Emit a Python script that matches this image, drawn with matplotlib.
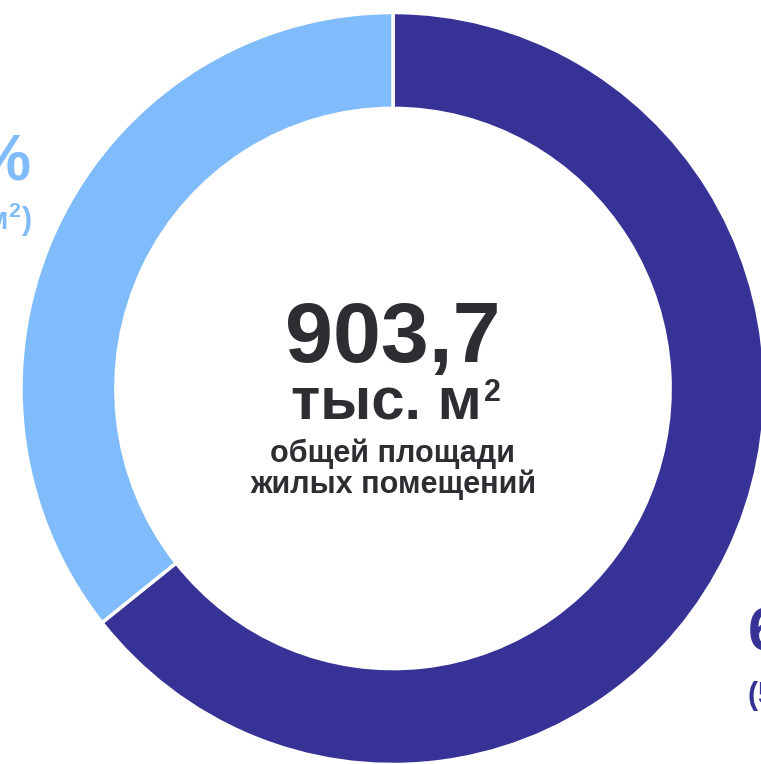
import matplotlib.pyplot as plt

plt.rcParams['font.family'] = ['Liberation Sans', 'DejaVu Sans']
plt.rcParams['mathtext.fontset'] = 'custom'
plt.rcParams['mathtext.rm'] = 'Liberation Sans:bold'
plt.rcParams['mathtext.bf'] = 'Liberation Sans:bold'

shares = [64.3, 35.7]
areas = ['581,1', '322,6']
colors = ['#373295', '#80bcfc']
total = '903,7'

W, H = 761, 764
fig = plt.figure(figsize=(W / 100, H / 100), dpi=100)

# ring geometry in pixels (slightly elliptical like the reference)
cx, cy = 393, 388.5
rx, ry = 372, 376

ax = fig.add_axes([0, 0, 1, 1])
ax.pie(shares, colors=colors, startangle=90, counterclock=False,
       radius=1, wedgeprops=dict(width=0.255, edgecolor='white', linewidth=2.5))
ax.set_aspect('auto')
ax.set_xlim(-cx / rx, (W - cx) / rx)
ax.set_ylim((cy - H) / ry, cy / ry)
ax.axis('off')

# overlay in pixel coordinates for the labels
tx = fig.add_axes([0, 0, 1, 1])
tx.set_xlim(0, W)
tx.set_ylim(H, 0)
tx.axis('off')

dark = '#2d2d32'
tx.text(cx, 362, total, ha='center', va='baseline', fontsize=62,
        fontweight='bold', color=dark)
tx.text(482, 420, 'тыс. м', ha='right', va='baseline', fontsize=43,
        fontweight='bold', color=dark)
tx.text(484, 401, '2', ha='left', va='baseline', fontsize=22,
        fontweight='bold', color=dark)
tx.text(cx, 462, 'общей площади', ha='center', va='baseline',
        fontsize=22, fontweight='bold', color=dark)
tx.text(cx, 493, 'жилых помещений', ha='center', va='baseline',
        fontsize=22, fontweight='bold', color=dark)

# side labels (partly outside the canvas)
tx.text(31, 180, f'{shares[1]:.1f}%'.replace('.', ','), ha='right',
        va='baseline', fontsize=46, fontweight='bold', color=colors[1])
tx.text(32, 230, f'({areas[1]} тыс. м$^{{2}}$)', ha='right', va='baseline',
        fontsize=22, fontweight='bold', color=colors[1])
tx.text(748, 650, f'{shares[0]:.1f}%'.replace('.', ','), ha='left',
        va='baseline', fontsize=44, fontweight='bold', color=colors[0])
tx.text(747, 705, f'({areas[0]} тыс. м$^{{2}}$)', ha='left', va='baseline',
        fontsize=22, fontweight='bold', color=colors[0])

fig.savefig('out.png', dpi=100)
